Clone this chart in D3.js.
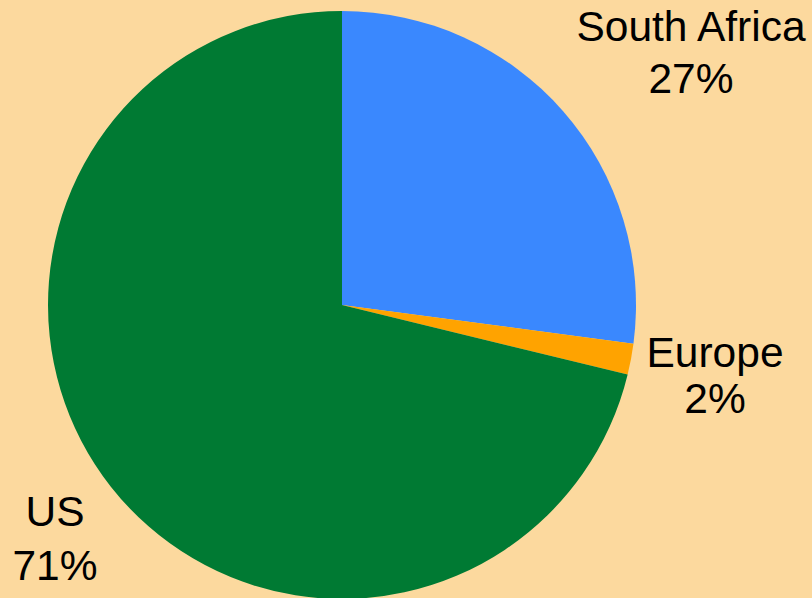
<!DOCTYPE html>
<html>
<head>
<meta charset="utf-8">
<script src="https://cdn.jsdelivr.net/npm/d3@7"></script>
<style>
  html, body { margin: 0; padding: 0; background: #fcd99e; }
  svg { display: block; }
  text { font-family: "Liberation Sans", Arial, sans-serif; fill: #000; }
</style>
</head>
<body>
<div class="visHolder"></div>
<script>
const regions = ["South Africa", "Europe", "US"];
const shares = [27.1, 1.7, 71.2];
const colors = ["#3a88fe", "#ffa300", "#007a33"];

// where each label sits (centre x, first baseline, second baseline)
const labelPos = [
  [691, 41, 93],
  [715, 367, 413],
  [55, 526, 580]
];

const width = 812;
const height = 598;
const cx = 342;
const cy = 305;
const radius = 294;

const svg = d3
  .select(".visHolder")
  .append("svg")
  .attr("width", width)
  .attr("height", height);

const pie = d3.pie().sort(null).value((d) => d);
const arc = d3.arc().innerRadius(0).outerRadius(radius);

const arcs = pie(shares);

svg
  .append("g")
  .attr("transform", `translate(${cx}, ${cy})`)
  .selectAll("path")
  .data(arcs)
  .enter()
  .append("path")
  .attr("d", arc)
  .attr("fill", (d, i) => colors[i]);

const labels = svg
  .selectAll("g.label")
  .data(arcs)
  .enter()
  .append("g")
  .attr("class", "label");

labels
  .append("text")
  .attr("x", (d, i) => labelPos[i][0])
  .attr("y", (d, i) => labelPos[i][1])
  .attr("text-anchor", "middle")
  .attr("font-size", 42.5)
  .text((d, i) => regions[i]);

labels
  .append("text")
  .attr("x", (d, i) => labelPos[i][0])
  .attr("y", (d, i) => labelPos[i][2])
  .attr("text-anchor", "middle")
  .attr("font-size", 42.5)
  .text((d) => Math.round(d.data) + "%");
</script>
</body>
</html>
